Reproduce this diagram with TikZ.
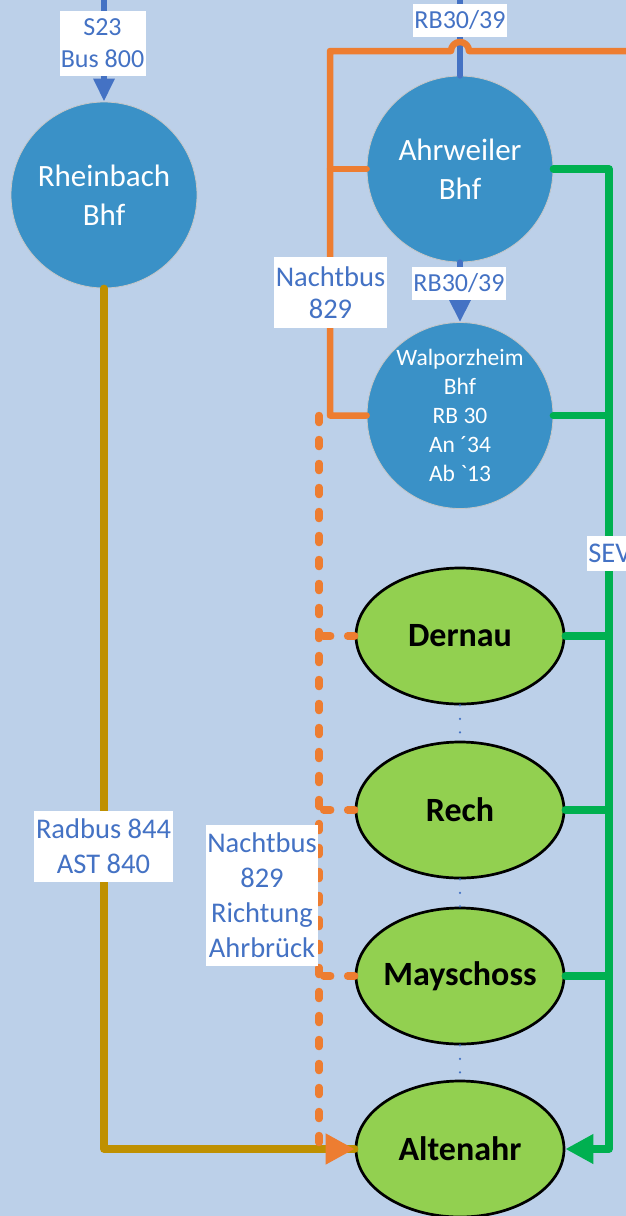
\documentclass[tikz,border=0pt]{standalone}
\usepackage{fontspec}
\setmainfont{Carlito}
\usetikzlibrary{arrows.meta}
\usetikzlibrary{shapes.geometric}
\definecolor{bgblue}{HTML}{BCD0E9}
\definecolor{bhfblue}{HTML}{3A91C7}
\definecolor{rbblue}{HTML}{4472C4}
\definecolor{nborange}{HTML}{ED7D31}
\definecolor{sevgreen}{HTML}{00B050}
\definecolor{radgold}{HTML}{BF9000}
\definecolor{ortgreen}{HTML}{92D050}

\begin{document}
\begin{tikzpicture}[x=1pt,y=-1pt,
  bhf/.style={circle,fill=bhfblue,draw=gray!45,line width=0.8pt,minimum size=186pt,inner sep=0pt,align=center,text=white},
  ort/.style={ellipse,fill=ortgreen,draw=black,line width=2.7pt,minimum width=208pt,minimum height=136pt,inner xsep=-15pt,inner ysep=0pt,font=\fontsize{34}{40}\selectfont\bfseries},
  schild/.style={fill=white,text=rbblue,inner sep=0pt,align=center},
  rbline/.style={rbblue,line width=6pt,line cap=round},
  nbline/.style={nborange,line width=6.5pt,line join=round,line cap=round},
  nbdash/.style={nborange,line width=7.5pt,line cap=round,dash pattern=on 7pt off 17pt},
  sevline/.style={sevgreen,line width=7.5pt,line join=round,line cap=round},
  radline/.style={radgold,line width=7.5pt,line join=round,line cap=round},
  dotline/.style={rbblue,line width=2.3pt,line cap=round,dash pattern=on 0pt off 13.5pt}]
  \fill[bgblue] (0,0) rectangle (626,1216);
  \useasboundingbox (0,0) rectangle (626,1216);

  \node[bhf,font=\fontsize{31}{38.5}\selectfont] (rhb) at (104,195) {Rheinbach\\Bhf};
  \node[bhf,font=\fontsize{31}{38.5}\selectfont] (ahr) at (460,169) {Ahrweiler\\Bhf};
  \node[bhf,font=\fontsize{23.5}{29}\selectfont] (wal) at (460,415.5) {Walporzheim\\Bhf\\RB 30\\An ´34\\Ab \textasciigrave13};

  \node[ort] (der) at (460,636) {Dernau};
  \node[ort] (rec) at (460,810) {Rech};
  \node[ort] (may) at (460,976) {Mayschoss};
  \node[ort] (alt) at (460,1149) {Altenahr};

  \coordinate (rhbtop) at (104,-5);
  \coordinate (ahrtop) at (460,-5);
  \coordinate (nbeck) at (330,51);
  \coordinate (nbahr) at (330,169);
  \coordinate (hop) at (451,51);
  \coordinate (nbrand) at (640,51);
  \coordinate (nbstart) at (319,415.5);
  \coordinate (seveck) at (609,1149);

  \draw[rbline,-{Triangle[length=23pt,width=20pt]}] (rhbtop) -- (rhb.north);
  \draw[rbline] (ahrtop) -- (ahr.north);
  \draw[rbline,-{Triangle[length=24pt,width=22pt]}] (ahr.south) -- (wal.north);

  \draw[nbline] (wal.west) -| (nbeck) -- (hop) arc[start angle=180,end angle=360,radius=9] -- (nbrand);
  \draw[nbline] (nbahr) -- (ahr.west);

  \draw[radline] (rhb.south) |- (alt.west);
  \draw[nbdash,-{Triangle[length=29pt,width=29pt]}] (nbstart) |- (alt.west);
  \foreach \o in {der,rec,may}
    \draw[nbdash] (\o.west) -- (nbstart |- \o.west);

  \draw[sevline,-{Triangle[length=28pt,width=28pt]}] (ahr.east) -| (seveck) -- (alt.east);
  \foreach \o in {wal,der,rec,may}
    \draw[sevline] (\o.east) -- (\o.east -| seveck);

  \draw[dotline] (der.south) -- (rec.north);
  \draw[dotline] (rec.south) -- (may.north);
  \draw[dotline] (may.south) -- (alt.north);

  \node[schild,font=\fontsize{26}{32}\selectfont,minimum width=86pt,minimum height=65pt] (s23) at (102.5,43.5) {S23\\Bus 800};
  \node[schild,font=\fontsize{26}{32}\selectfont,minimum width=94pt,minimum height=33pt] (rboben) at (460,20.5) {RB30/39};
  \node[schild,font=\fontsize{26}{32}\selectfont,minimum width=94pt,minimum height=33pt] (rbmitte) at (459,283.5) {RB30/39};
  \node[schild,font=\fontsize{28.5}{32}\selectfont,minimum width=113pt,minimum height=71pt] (nbahrlab) at (330.5,292.5) {Nachtbus\\829};
  \node[schild,font=\fontsize{28.5}{35}\selectfont,minimum width=139pt,minimum height=71pt] (rad) at (103.5,846.5) {Radbus 844\\AST 840};
  \node[schild,font=\fontsize{28.5}{35}\selectfont,minimum width=112pt,minimum height=141pt] (nbricht) at (262,895.5) {Nachtbus\\829\\Richtung\\Ahrbrück};
  \node[schild,font=\fontsize{28.5}{35}\selectfont,minimum width=46pt,minimum height=35pt] (sev) at (610,553.5) {SEV};
\end{tikzpicture}
\end{document}
